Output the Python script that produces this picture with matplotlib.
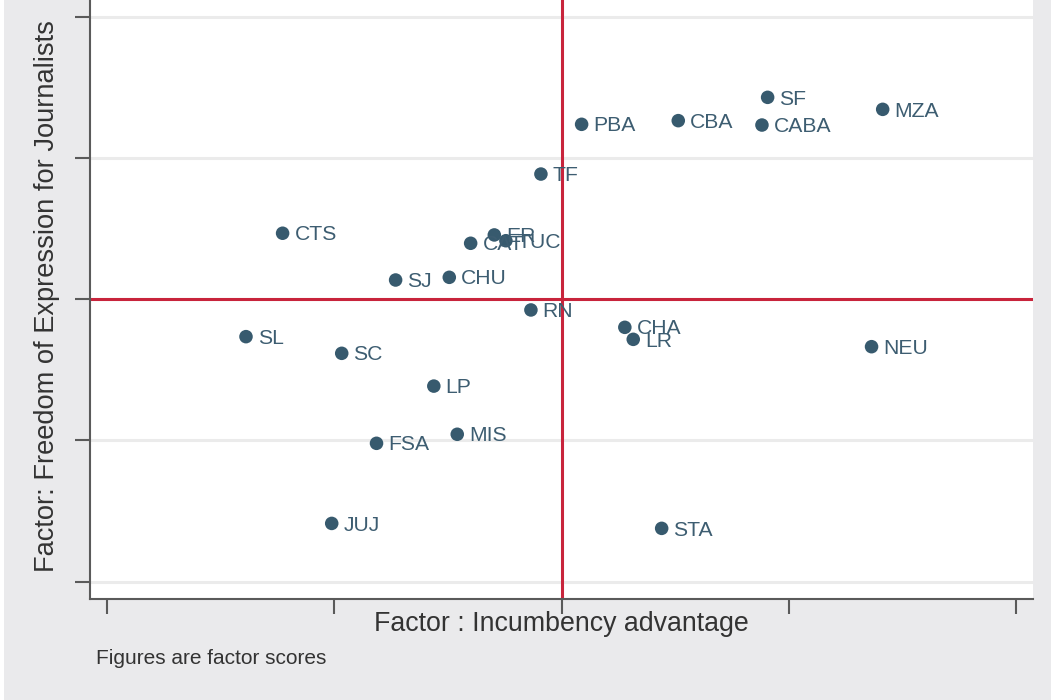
import matplotlib
matplotlib.use("Agg")
import matplotlib.pyplot as plt
from matplotlib.patches import Rectangle

# factor scores
provinces = ["SF", "MZA", "PBA", "CBA", "CABA", "TF", "CTS", "ER", "CAT", "TUC",
             "SJ", "CHU", "RN", "CHA", "LR", "SL", "SC", "NEU", "LP", "MIS",
             "FSA", "JUJ", "STA"]
incumbency = [0.906, 1.412, 0.088, 0.513, 0.881, -0.091, -1.227, -0.296, -0.400, -0.245,
              -0.730, -0.494, -0.135, 0.278, 0.315, -1.388, -0.967, 1.363, -0.562, -0.459,
              -0.814, -1.011, 0.440]
freedom = [1.429, 1.344, 1.238, 1.264, 1.233, 0.886, 0.467, 0.455, 0.396, 0.414,
           0.136, 0.155, -0.076, -0.199, -0.284, -0.265, -0.383, -0.336, -0.615, -0.956,
           -1.020, -1.587, -1.622]
x_ticks = [-2, -1, 0, 1, 2]
y_ticks = [-2, -1, 0, 1, 2]

plt.rcParams["font.family"] = ["Liberation Sans", "DejaVu Sans"]

BG = "#eaeaec"
DOT = "#375a6e"
RED = "#c8243c"
AXC = "#5a5a5a"

fig = plt.figure(figsize=(10.51, 7.0), dpi=100, facecolor=BG)
fig.patches.append(Rectangle((0, 0), 4 / 1051, 1, transform=fig.transFigure,
                             facecolor="white", edgecolor="none", zorder=0))

ax = fig.add_axes([90 / 1051, 1 - 599 / 700, 943 / 1051, 599 / 700])
ax.set_facecolor("white")
ax.set_xlim(-2.074, 2.073)
ax.set_ylim(-2.122, 2.118)

ax.set_xticks(x_ticks)
ax.set_yticks(y_ticks)
ax.set_xticklabels([])
ax.set_yticklabels([])
ax.tick_params(axis="both", direction="out", length=11, width=1.5, color=AXC)

for side in ["top", "right"]:
    ax.spines[side].set_visible(False)
for side in ["left", "bottom"]:
    ax.spines[side].set_color(AXC)
    ax.spines[side].set_linewidth(1.5)

for yv in y_ticks:
    ax.axhline(yv, color="#ebebeb", lw=2.2, zorder=1)
ax.axhline(0, color=RED, lw=2.2, zorder=2)
ax.axvline(0, color=RED, lw=2.2, zorder=2)

ax.scatter(incumbency, freedom, s=95, color=DOT, edgecolors="none", zorder=3)
for name, xv, yv in zip(provinces, incumbency, freedom):
    ax.annotate(name, (xv, yv), xytext=(8.5, -1.2), textcoords="offset points",
                ha="left", va="center", fontsize=15.2, color="#3d5d71", zorder=4)

fig.text(561.7 / 1051, 1 - 624 / 700, "Factor : Incumbency advantage",
         ha="center", va="center", fontsize=19.3, color="#333333")
fig.text(47 / 1051, 1 - 296 / 700, "Factor: Freedom of Expression for Journalists",
         ha="center", va="center", rotation=90, fontsize=19.6, color="#333333")
fig.text(96 / 1051, 1 - 659 / 700, "Figures are factor scores",
         ha="left", va="center", fontsize=15.0, color="#333333")

fig.savefig("out.png", dpi=100, facecolor=BG)
